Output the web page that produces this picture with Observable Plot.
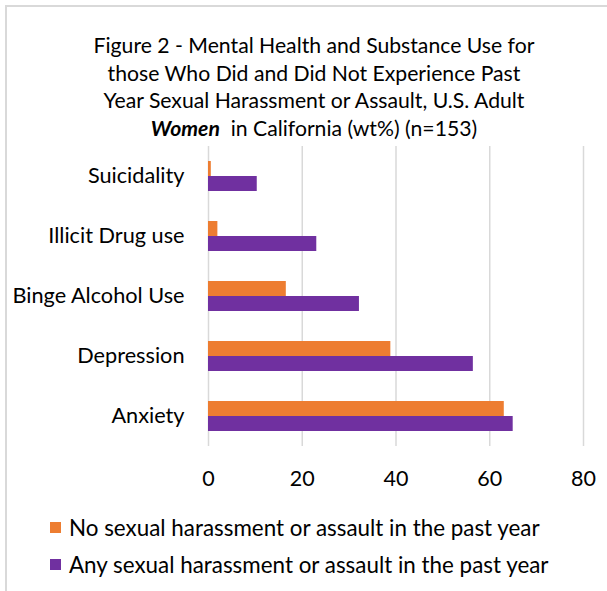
<!DOCTYPE html>
<html>
<head>
<meta charset="utf-8">
<script src="https://cdn.jsdelivr.net/npm/d3@7"></script>
<script src="https://cdn.jsdelivr.net/npm/@observablehq/plot@0.6"></script>
<style>
  html, body { margin: 0; padding: 0; background: #fff; }
  #wrap { position: relative; width: 607px; height: 591px; overflow: hidden; font-family: Lato, sans-serif; color: #000; }
  #frame { position: absolute; left: 5px; top: 5px; right: -10px; bottom: -10px; border-left: 2px solid #d9d9d9; border-top: 2px solid #d9d9d9; }
  #title { position: absolute; left: 21px; width: 586px; top: 32px; text-align: center; font-size: 21.2px; line-height: 27.5px; }
  #chart { position: absolute; left: 0; top: 140px; }
  #legend { position: absolute; left: 50px; top: 509px; font-size: 22.4px; }
  .item { display: flex; align-items: center; height: 37px; }
  .sw { width: 11px; height: 11px; margin-right: 8px; }
</style>
</head>
<body>
<div id="wrap">
  <div id="frame"></div>
  <div id="title">
    <div>Figure 2 - Mental Health and Substance Use for</div>
    <div>those Who Did and Did Not Experience Past</div>
    <div>Year Sexual Harassment or Assault, U.S. Adult</div>
    <div><b><i>Women</i></b>&nbsp; in California (wt%) (n=153)</div>
  </div>
  <div id="chart"></div>
  <div id="legend"></div>
</div>
<script>
const categories = ["Suicidality", "Illicit Drug use", "Binge Alcohol Use", "Depression", "Anxiety"];
const series = ["No sexual harassment or assault in the past year", "Any sexual harassment or assault in the past year"];
const noValues = [0.6, 2.0, 16.6, 38.9, 63.1];
const anyValues = [10.4, 23.1, 32.2, 56.5, 65.0];
const xTicks = [0, 20, 40, 60, 80];
const colors = ["#ED7D31", "#7030A0"];

const data = categories.flatMap((c, i) => [
  {category: c, series: series[0], value: noValues[i]},
  {category: c, series: series[1], value: anyValues[i]}
]);

const chart = Plot.plot({
  width: 607,
  height: 360,
  marginTop: 5,
  marginBottom: 53,
  marginLeft: 208,
  marginRight: 24,
  style: {fontFamily: "Lato, sans-serif", fontSize: "21px", color: "#000", background: "transparent"},
  x: {domain: [0, 80], axis: null},
  y: {domain: series, axis: null, paddingInner: 0, paddingOuter: 0.8875},
  fy: {domain: categories, padding: 0, axis: null},
  color: {domain: series, range: colors},
  marks: [
    Plot.ruleX(xTicks, {x: d => d, stroke: "#d9d9d9", strokeWidth: 1.5}),
    Plot.barX(data, {x: "value", y: "series", fy: "category", fill: "series"}),
    Plot.axisFy({anchor: "left", tickSize: 0, tickPadding: 24, label: null, fontSize: 21.7}),
    Plot.axisX(xTicks, {anchor: "bottom", tickSize: 0, tickPadding: 24, label: null, fontSize: 21.5})
  ]
});
document.getElementById("chart").appendChild(chart);

const legend = document.getElementById("legend");
series.forEach((s, i) => {
  const item = document.createElement("div");
  item.className = "item";
  const sw = document.createElement("span");
  sw.className = "sw";
  sw.style.background = colors[i];
  const label = document.createElement("span");
  label.textContent = s;
  item.appendChild(sw);
  item.appendChild(label);
  legend.appendChild(item);
});
</script>
</body>
</html>
